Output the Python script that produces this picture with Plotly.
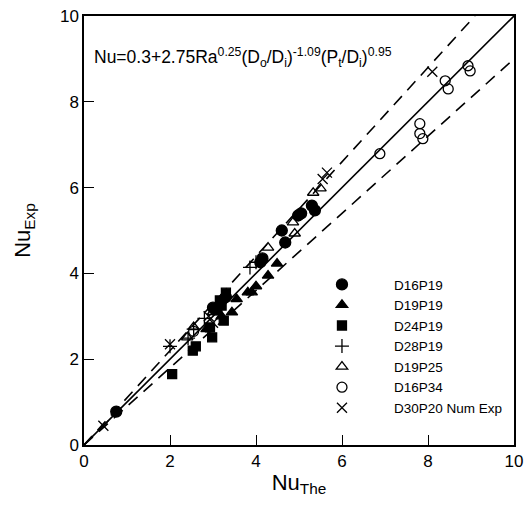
import plotly.graph_objects as go

# ---- data ----
d16p19_x = [0.75, 3.0, 3.3, 4.1, 4.15, 4.6, 4.68, 4.98, 5.05, 5.3, 5.37]
d16p19_y = [0.78, 3.2, 3.45, 4.26, 4.35, 5.0, 4.72, 5.35, 5.4, 5.58, 5.47]

d19p19_x = [2.85, 3.2, 3.44, 3.55, 3.81, 3.9, 4.0, 4.28, 4.49]
d19p19_y = [2.7, 3.0, 3.09, 3.4, 3.56, 3.56, 3.7, 3.95, 4.23]

d24p19_x = [2.05, 2.53, 2.6, 2.93, 2.98, 3.1, 3.16, 3.2, 3.3, 3.25]
d24p19_y = [1.65, 2.2, 2.3, 2.74, 2.51, 3.14, 3.37, 3.25, 3.55, 2.9]

d28p19_x = [2.0, 2.42, 2.8, 3.86, 4.0, 2.55]
d28p19_y = [2.3, 2.49, 2.95, 4.14, 4.26, 2.7]

d19p25_x = [2.4, 2.55, 3.0, 4.28, 4.86, 4.9, 5.33, 5.5]
d19p25_y = [2.51, 2.75, 3.1, 4.6, 5.19, 4.93, 5.88, 5.98]

d16p34_x = [2.55, 6.88, 7.81, 7.81, 7.88, 8.4, 8.47, 8.93, 8.98]
d16p34_y = [2.65, 6.79, 7.49, 7.26, 7.14, 8.49, 8.3, 8.84, 8.72]

d30p20_x = [0.45, 2.0, 2.9, 3.0, 5.55, 5.65, 8.1]
d30p20_y = [0.45, 2.35, 3.0, 2.85, 6.2, 6.35, 8.7]

line_x = [0, 10]
upper_factor = 1.1
lower_factor = 0.9

series = [
    ("D16P19", d16p19_x, d16p19_y, "circle", 11),
    ("D19P19", d19p19_x, d19p19_y, "triangle-up", 10),
    ("D24P19", d24p19_x, d24p19_y, "square", 9),
    ("D28P19", d28p19_x, d28p19_y, "cross-thin", 10),
    ("D19P25", d19p25_x, d19p25_y, "triangle-up-open", 10),
    ("D16P34", d16p34_x, d16p34_y, "circle-open", 10),
    ("D30P20 Num Exp", d30p20_x, d30p20_y, "x-thin", 10),
]

FONT = "Arial, Liberation Sans, sans-serif"

fig = go.Figure()

# reference lines
fig.add_trace(go.Scatter(x=line_x, y=line_x, mode="lines",
                         line=dict(color="black", width=1.6), showlegend=False))
fig.add_trace(go.Scatter(x=[0, 10 / upper_factor], y=[0, 10], mode="lines",
                         line=dict(color="black", width=1.6, dash="12px,8px"),
                         showlegend=False))
fig.add_trace(go.Scatter(x=line_x, y=[v * lower_factor for v in line_x], mode="lines",
                         line=dict(color="black", width=1.6, dash="12px,8px"),
                         showlegend=False))

for name, xs, ys, sym, sz in series:
    fig.add_trace(go.Scatter(
        x=xs, y=ys, mode="markers", name=name,
        marker=dict(symbol=sym, size=sz, color="black",
                    line=dict(color="black", width=1.3)),
    ))

fig.add_annotation(
    x=0.019, y=0.904, xref="paper", yref="paper", xanchor="left", yanchor="middle",
    text="Nu=0.3+2.75Ra<sup>0.25</sup>(D<sub>o</sub>/D<sub>i</sub>)<sup>-1.09</sup>(P<sub>t</sub>/D<sub>i</sub>)<sup>0.95</sup>",
    showarrow=False, font=dict(family=FONT, size=17.5, color="black"),
)

axis_common = dict(
    range=[0, 10], tickvals=[0, 2, 4, 6, 8, 10], ticks="inside", ticklen=10,
    tickwidth=1.2, tickcolor="black", showline=True, linecolor="black",
    linewidth=1.5, mirror=True, showgrid=False, zeroline=False,
    automargin=False, ticklabeloverflow="allow",
    tickfont=dict(family=FONT, size=17, color="black"),
)

# page body has an 8px margin, so the figure is sized/margined to compensate
fig.update_layout(
    width=524, height=504,
    margin=dict(l=76, r=18, t=8, b=67),
    paper_bgcolor="white", plot_bgcolor="white",
    font=dict(family=FONT, color="black"),
    xaxis=dict(**axis_common, title=dict(text="Nu<sub>The</sub>",
               font=dict(family=FONT, size=22), standoff=4)),
    yaxis=dict(**axis_common, title=dict(text="Nu<sub>Exp</sub>",
               font=dict(family=FONT, size=22), standoff=23)),
    legend=dict(x=0.479, y=0.41, xanchor="left", yanchor="top",
                bgcolor="rgba(0,0,0,0)", font=dict(family=FONT, size=13.5),
                itemwidth=94, itemsizing="trace"),
)

fig.write_html("out.html")
